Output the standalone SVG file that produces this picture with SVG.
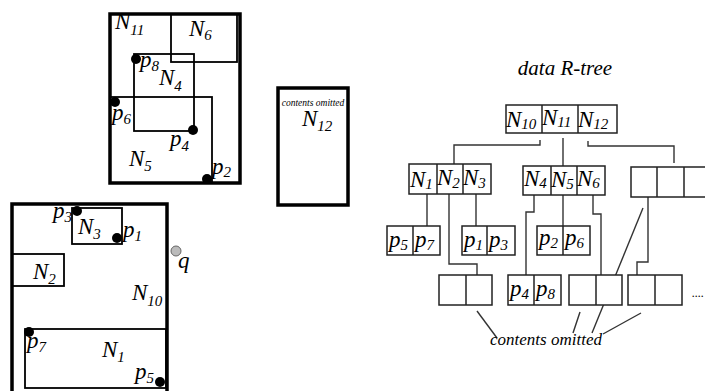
<svg xmlns="http://www.w3.org/2000/svg" width="705" height="391" viewBox="0 0 705 391">
<style>
text{font-family:"Liberation Serif","DejaVu Serif",serif;font-style:italic;fill:#000}
.lb{font-size:23px}
.sb{font-size:15px}
.thick{fill:none;stroke:#000;stroke-width:3.5}
.thin{fill:none;stroke:#000;stroke-width:1.8}
.cell{fill:#fff;stroke:#222;stroke-width:1.5}
.con{fill:none;stroke:#333;stroke-width:1.4}
.dot{fill:#000}
</style>
<rect width="705" height="391" fill="#fff"/>

<!-- top-left: N11 -->
<g id="N11">
<rect class="thick" x="110" y="14" width="130" height="169"/>
<text class="lb" x="115" y="29">N<tspan class="sb" dy="6">11</tspan></text>
</g>
<g id="N6">
<rect class="thin" x="171" y="14" width="66" height="48"/>
<text class="lb" x="189" y="36">N<tspan class="sb" dy="4">6</tspan></text>
</g>
<g id="N4">
<rect class="thin" x="134" y="54" width="60" height="77"/>
<text class="lb" x="159" y="85">N<tspan class="sb" dy="6">4</tspan></text>
</g>
<g id="N5">
<rect class="thin" x="110" y="97" width="102" height="86"/>
<text class="lb" x="129" y="166">N<tspan class="sb" dy="5">5</tspan></text>
</g>
<g id="points-top">
<circle class="dot" cx="136" cy="59" r="5"/>
<text class="lb" x="140" y="67">p<tspan class="sb" dy="4">8</tspan></text>
<circle class="dot" cx="115" cy="102" r="5"/>
<text class="lb" x="112" y="120">p<tspan class="sb" dy="4">6</tspan></text>
<circle class="dot" cx="193" cy="130" r="5"/>
<text class="lb" x="170" y="146">p<tspan class="sb" dy="5">4</tspan></text>
<circle class="dot" cx="207" cy="179" r="5"/>
<text class="lb" x="212" y="174">p<tspan class="sb" dy="3">2</tspan></text>
</g>

<!-- N12 -->
<g id="N12">
<rect class="thick" x="278" y="88" width="70" height="117"/>
<text x="313" y="106" font-size="9.5" text-anchor="middle">contents omitted</text>
<text class="lb" x="302" y="126">N<tspan class="sb" dy="5">12</tspan></text>
</g>

<!-- bottom-left: N10 -->
<g id="N10">
<rect class="thick" x="12" y="204" width="155" height="200"/>
<text class="lb" x="132" y="300">N<tspan class="sb" dy="6">10</tspan></text>
</g>
<g id="N3">
<rect class="thin" x="72" y="208" width="50" height="36"/>
<text class="lb" x="78" y="234">N<tspan class="sb" dy="5">3</tspan></text>
</g>
<g id="N2">
<rect class="thin" x="12" y="254" width="52" height="32"/>
<text class="lb" x="33" y="279">N<tspan class="sb" dy="5">2</tspan></text>
</g>
<g id="N1">
<rect class="thin" x="25" y="329" width="141" height="59"/>
<text class="lb" x="102" y="357">N<tspan class="sb" dy="5">1</tspan></text>
</g>
<g id="points-bottom">
<circle class="dot" cx="77" cy="211" r="5"/>
<text class="lb" x="53" y="218">p<tspan class="sb" dy="4">3</tspan></text>
<circle class="dot" cx="117" cy="238" r="5"/>
<text class="lb" x="123" y="237">p<tspan class="sb" dy="4">1</tspan></text>
<circle cx="176" cy="251" r="5" fill="#bbb" stroke="#666" stroke-width="1"/>
<text class="lb" x="178" y="268">q</text>
<circle class="dot" cx="29" cy="332" r="5"/>
<text class="lb" x="27" y="348">p<tspan class="sb" dy="4">7</tspan></text>
<circle class="dot" cx="160" cy="382" r="5"/>
<text class="lb" x="135" y="379">p<tspan class="sb" dy="4">5</tspan></text>
</g>

<!-- R-tree -->
<text x="565" y="75" font-size="21" text-anchor="middle">data R-tree</text>

<g id="connectors">
<polyline class="con" points="540,140 540,145 454,145 454,164"/>
<polyline class="con" points="563,138 563,166"/>
<polyline class="con" points="588,141 588,146 674,146 674,163"/>
<polyline class="con" points="427,194 427,226"/>
<polyline class="con" points="449,194 449,264 477,264 477,275"/>
<polyline class="con" points="476,194 476,226"/>
<polyline class="con" points="534,195 534,212 526,212 526,275"/>
<polyline class="con" points="563,195 563,226"/>
<polyline class="con" points="593,195 593,214 601,214 601,275"/>
<polyline class="con" points="648,197 648,262 637,262 637,275"/>
<line class="con" x1="477" y1="311" x2="497" y2="338"/>
<line class="con" x1="580" y1="312" x2="573" y2="333"/>
<line class="con" x1="643" y1="208" x2="592" y2="333"/>
<line class="con" x1="641" y1="313" x2="603" y2="334"/>
</g>

<g id="root">
<rect class="cell" x="506" y="105" width="111" height="28"/>
<line class="cell" x1="542" y1="105" x2="542" y2="133"/>
<line class="cell" x1="578" y1="105" x2="578" y2="133"/>
<text class="lb" x="506" y="127">N<tspan class="sb" dy="2">10</tspan></text>
<text class="lb" x="542" y="125">N<tspan class="sb" dy="2">11</tspan></text>
<text class="lb" x="578" y="127">N<tspan class="sb" dy="2">12</tspan></text>
</g>

<g id="node-N1N2N3">
<rect class="cell" x="409" y="164" width="82" height="30"/>
<line class="cell" x1="437" y1="164" x2="437" y2="194"/>
<line class="cell" x1="463" y1="164" x2="463" y2="194"/>
<text class="lb" x="410" y="187">N<tspan class="sb" dy="2">1</tspan></text>
<text class="lb" x="437" y="185">N<tspan class="sb" dy="3">2</tspan></text>
<text class="lb" x="463" y="185">N<tspan class="sb" dy="3">3</tspan></text>
</g>
<g id="node-N4N5N6">
<rect class="cell" x="523" y="166" width="82" height="29"/>
<line class="cell" x1="551" y1="166" x2="551" y2="195"/>
<line class="cell" x1="577" y1="166" x2="577" y2="195"/>
<text class="lb" x="524" y="186">N<tspan class="sb" dy="2">4</tspan></text>
<text class="lb" x="551" y="187">N<tspan class="sb" dy="2">5</tspan></text>
<text class="lb" x="577" y="186">N<tspan class="sb" dy="2">6</tspan></text>
</g>
<g id="node-N12child">
<rect class="cell" x="631" y="167" width="80" height="30"/>
<line class="cell" x1="657" y1="167" x2="657" y2="197"/>
<line class="cell" x1="684" y1="167" x2="684" y2="197"/>
</g>

<g id="leaf-p5p7">
<rect class="cell" x="387" y="226" width="53" height="29"/>
<line class="cell" x1="413" y1="226" x2="413" y2="255"/>
<text class="lb" x="389" y="247">p<tspan class="sb" dy="3">5</tspan></text>
<text class="lb" x="415" y="247">p<tspan class="sb" dy="3">7</tspan></text>
</g>
<g id="leaf-p1p3">
<rect class="cell" x="462" y="226" width="53" height="29"/>
<line class="cell" x1="487" y1="226" x2="487" y2="255"/>
<text class="lb" x="464" y="247">p<tspan class="sb" dy="3">1</tspan></text>
<text class="lb" x="489" y="247">p<tspan class="sb" dy="3">3</tspan></text>
</g>
<g id="leaf-p2p6">
<rect class="cell" x="537" y="226" width="53" height="29"/>
<line class="cell" x1="563" y1="226" x2="563" y2="255"/>
<text class="lb" x="539" y="245">p<tspan class="sb" dy="3">2</tspan></text>
<text class="lb" x="565" y="245">p<tspan class="sb" dy="3">6</tspan></text>
</g>
<g id="leaf-empty1">
<rect class="cell" x="439" y="275" width="53" height="30"/>
<line class="cell" x1="466" y1="275" x2="466" y2="305"/>
</g>
<g id="leaf-p4p8">
<rect class="cell" x="508" y="275" width="53" height="30"/>
<line class="cell" x1="534" y1="275" x2="534" y2="305"/>
<text class="lb" x="510" y="296">p<tspan class="sb" dy="3">4</tspan></text>
<text class="lb" x="536" y="296">p<tspan class="sb" dy="3">8</tspan></text>
</g>
<g id="leaf-empty2">
<rect class="cell" x="569" y="275" width="53" height="30"/>
<line class="cell" x1="596" y1="275" x2="596" y2="305"/>
</g>
<g id="leaf-empty3">
<rect class="cell" x="628" y="275" width="54" height="30"/>
<line class="cell" x1="655" y1="275" x2="655" y2="305"/>
</g>
<text x="692" y="297" font-size="12">....</text>
<text x="546" y="345" font-size="17" text-anchor="middle">contents omitted</text>
</svg>
